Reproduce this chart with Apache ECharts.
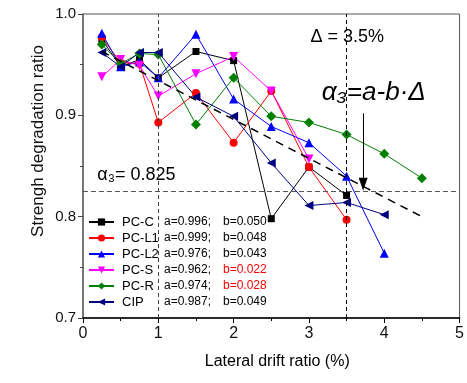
<!DOCTYPE html>
<html>
<head>
<meta charset="utf-8">
<script src="https://cdn.jsdelivr.net/npm/echarts@6/dist/echarts.min.js"></script>
<style>
  html, body { margin: 0; padding: 0; background: #fff; }
  #main { width: 467px; height: 383px; }
</style>
</head>
<body>
<div id="main"></div>
<script>
// lateral drift ratio (%) steps
const drift = [0.25, 0.5, 0.75, 1, 1.5, 2, 2.5, 3, 3.5, 4, 4.5];

// strength degradation ratio per specimen
const pcC = [0.975, 0.948, 0.955, 0.937, 0.963, 0.954, 0.798, 0.849, 0.821];
const pcL1 = [0.977, 0.952, 0.951, 0.893, 0.922, 0.873, 0.924, 0.849, 0.797];
const pcL2 = [0.981, 0.948, 0.953, 0.937, 0.980, 0.916, 0.889, 0.873, 0.840, 0.764];
const pcS = [0.938, 0.955, 0.949, 0.919, 0.941, 0.958, 0.924, 0.857];
const pcR = [0.970, 0.951, 0.961, 0.960, 0.891, 0.937, 0.899, 0.893, 0.881, 0.862, 0.838];
const cip = [0.962, 0.948, 0.962, 0.962, 0.918, 0.899, 0.853, 0.811, 0.814, 0.802];

const names = ["PC-C", "PC-L1", "PC-L2", "PC-S", "PC-R", "CIP"];
const aVals = ["0.996", "0.999", "0.976", "0.962", "0.974", "0.987"];
const bVals = ["0.050", "0.048", "0.043", "0.022", "0.028", "0.049"];
const bRed = [false, false, false, true, true, false];

// fitted line a-b*delta
const fitX = [0.25, 4.5];
const fitY = [0.963, 0.800];

const alphaLimit = 0.825;
const deltaLimit = 3.5;
const arrowX = 3.72;
const arrowFrom = 0.902;
const arrowTo = 0.832;

const xTicks = [0, 1, 2, 3, 4, 5];

const styles = [
  { color: "#000000", symbol: "rect", size: 7, rotate: 0 },
  { color: "#ff0000", symbol: "circle", size: 8, rotate: 0 },
  { color: "#0000ff", symbol: "triangle", size: 9, rotate: 0 },
  { color: "#ff00ff", symbol: "triangle", size: 9, rotate: 180 },
  { color: "#008000", symbol: "diamond", size: 10, rotate: 0 },
  { color: "#000080", symbol: "triangle", size: 9, rotate: 90 },
];
const values = [pcC, pcL1, pcL2, pcS, pcR, cip];

const chart = echarts.init(document.getElementById("main"));

const series = names.map((name, k) => ({
  name: name,
  type: "line",
  data: values[k].map((v, i) => [drift[i], v]),
  symbol: styles[k].symbol,
  symbolSize: styles[k].size,
  symbolRotate: styles[k].rotate,
  showSymbol: true,
  itemStyle: { color: styles[k].color },
  lineStyle: { color: styles[k].color, width: 1 },
  animation: false,
}));

series.push({
  name: "fit",
  type: "line",
  data: fitX.map((x, i) => [x, fitY[i]]),
  symbol: "none",
  lineStyle: { color: "#000", width: 1.5, type: [8, 6] },
  z: 5,
  animation: false,
  markLine: {
    silent: true,
    animation: false,
    precision: 3,
    symbol: "none",
    label: { show: false },
    data: [
      { xAxis: 1, lineStyle: { color: "#444", width: 1, type: [4, 3] } },
      { xAxis: deltaLimit, lineStyle: { color: "#000", width: 1, type: [4, 3] } },
      { yAxis: alphaLimit, lineStyle: { color: "#555", width: 1, type: [5, 3] } },
      [
        { coord: [arrowX, arrowFrom], symbol: "none" },
        { coord: [arrowX, arrowTo], symbol: "triangle", symbolSize: [9, 13] },
      ],
    ],
    lineStyle: { color: "#000", width: 1, type: "solid" },
  },
});

const option = {
  backgroundColor: "#fff",
  animation: false,
  textStyle: { fontFamily: "Liberation Sans, Arial, sans-serif" },
  grid: {
    left: 83, right: 4, top: 14, bottom: 65,
    show: true, borderColor: "#555", borderWidth: 1,
  },
  legend: {
    data: names,
    orient: "vertical",
    left: 83,
    top: 210,
    itemWidth: 25,
    itemHeight: 9,
    itemGap: 2,
    selectedMode: false,
    formatter: (name) => {
      const k = names.indexOf(name);
      const bTag = bRed[k] ? "r" : "b";
      return `{n|${name}}{a|a=${aVals[k]};}{${bTag}|b=${bVals[k]}}`;
    },
    textStyle: {
      fontSize: 13,
      lineHeight: 14,
      color: "#000",
      rich: {
        n: { width: 42, fontSize: 13, color: "#000", padding: [0, 0, 0, 3] },
        a: { width: 59, fontSize: 12, color: "#000" },
        b: { fontSize: 12, color: "#000" },
        r: { fontSize: 12, color: "#ff0000" },
      },
    },
  },
  xAxis: {
    type: "value",
    min: 0, max: 5, interval: 1,
    name: "Lateral drift ratio (%)",
    nameLocation: "middle",
    nameGap: 36,
    nameTextStyle: { fontSize: 16, color: "#000", padding: [0, 0, 0, 12] },
    axisLine: { lineStyle: { color: "#000", width: 1.5 } },
    axisTick: { inside: false, length: 5, lineStyle: { color: "#000" } },
    minorTick: { show: true, splitNumber: 2, length: 3, lineStyle: { color: "#000" } },
    axisLabel: { fontSize: 16, color: "#111", margin: 8,
      formatter: (v) => (xTicks.includes(v) ? String(v) : "") },
    splitLine: { show: false },
  },
  yAxis: {
    type: "value",
    min: 0.7, max: 1.0, interval: 0.1,
    axisLine: { show: true, lineStyle: { color: "#666", width: 1.5 } },
    axisTick: { inside: false, length: 5, lineStyle: { color: "#444" } },
    minorTick: { show: true, splitNumber: 2, length: 3, lineStyle: { color: "#444" } },
    axisLabel: { fontSize: 15, color: "#111", margin: 7,
      formatter: (v) => v.toFixed(1) },
    splitLine: { show: false },
  },
  series: series,
};

chart.setOption(option);

// annotations placed in data coordinates
const p1 = chart.convertToPixel({ gridIndex: 0 }, [0.19, 0.841]);
const p2 = chart.convertToPixel({ gridIndex: 0 }, [3.02, 0.977]);
const p3 = chart.convertToPixel({ gridIndex: 0 }, [3.17, 0.922]);

chart.setOption({
  graphic: [
    {
      type: "text",
      position: [38, 141],
      rotation: Math.PI / 2,
      style: {
        text: "Strengh degradation ratio", fontSize: 17, fill: "#111",
        fontFamily: "Liberation Sans, Arial, sans-serif",
        x: 0, y: 0, align: "center", verticalAlign: "middle",
      },
    },
    {
      type: "text", position: p1,
      style: {
        text: "α₃= 0.825", fontSize: 18, fill: "#000",
        fontFamily: "Liberation Sans, DejaVu Sans, sans-serif",
        align: "left", verticalAlign: "middle",
      },
    },
    {
      type: "text", position: p2,
      style: {
        text: "Δ = 3.5%", fontSize: 18, fill: "#000",
        fontFamily: "Liberation Sans, DejaVu Sans, sans-serif",
        align: "left", verticalAlign: "middle",
      },
    },
    {
      type: "text", position: p3,
      style: {
        text: "α₃=a-b·Δ", fontSize: 26, fill: "#000", fontStyle: "italic",
        fontFamily: "Liberation Sans, DejaVu Sans, sans-serif",
        align: "left", verticalAlign: "middle",
      },
    },
  ],
});
</script>
</body>
</html>
